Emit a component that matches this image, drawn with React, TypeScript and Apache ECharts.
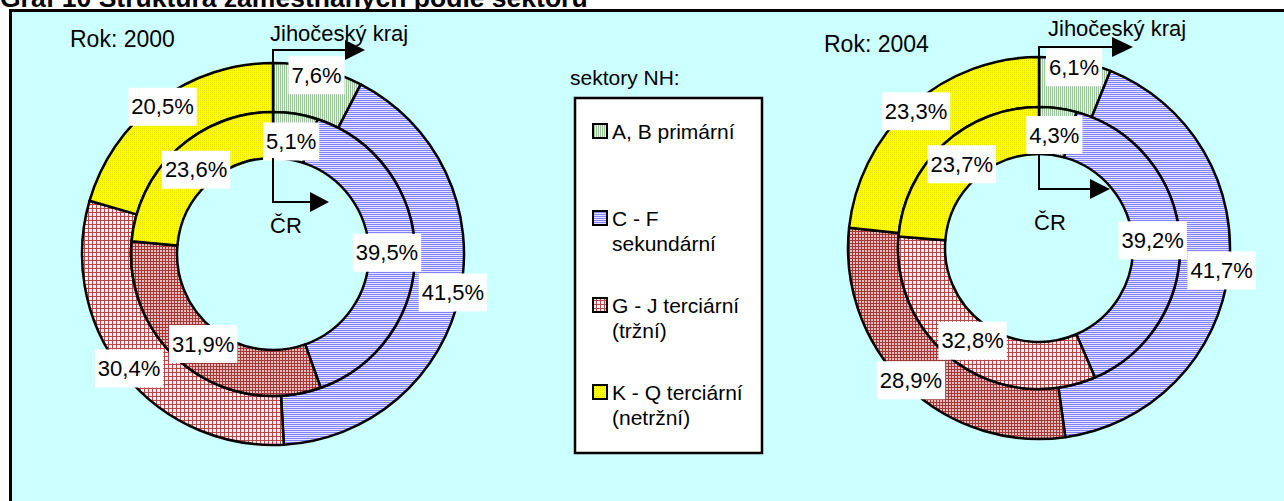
import React, { useEffect, useRef } from "react";
import * as echarts from "echarts";

const categories = [
  "A, B primární",
  "C - F\nsekundární",
  "G - J terciární\n(tržní)",
  "K - Q terciární\n(netržní)",
];
const kraj2000 = [7.6, 41.5, 30.4, 20.5];
const cr2000 = [5.1, 39.5, 31.9, 23.6];
const kraj2004 = [6.1, 41.7, 28.9, 23.3];
const cr2004 = [4.3, 39.2, 32.8, 23.7];

const FONT = "'Liberation Sans', Arial, Helvetica, sans-serif";

function makePattern(size: number, bg: string, fg: string, draw: (ctx: CanvasRenderingContext2D) => void) {
  const c = document.createElement("canvas");
  c.width = size;
  c.height = size;
  const ctx = c.getContext("2d")!;
  ctx.fillStyle = bg;
  ctx.fillRect(0, 0, size, size);
  ctx.fillStyle = fg;
  draw(ctx);
  return { image: c, repeat: "repeat", imageWidth: size, imageHeight: size } as any;
}

export default function App() {
  const ref = useRef<HTMLDivElement>(null);
  useEffect(() => {
    if (!ref.current) return;
    const chart = echarts.init(ref.current, null, { renderer: "svg" });

    const green = makePattern(2, "#e6f3e6", "#9cc49c", (c) => c.fillRect(0, 0, 1, 2));
    const blue = makePattern(2, "#e4e4ff", "#8282ff", (c) => c.fillRect(0, 0, 2, 1));
    const redLight = makePattern(4, "#fbefef", "#b34a4a", (c) => {
      c.fillRect(0, 0, 4, 1);
      c.fillRect(0, 0, 1, 4);
    });
    const redDark = makePattern(3, "#e6bcbc", "#a33838", (c) => {
      c.fillRect(0, 0, 3, 1);
      c.fillRect(0, 0, 1, 3);
    });
    const yellow = makePattern(2, "#ffff00", "#e4e400", (c) => c.fillRect(0, 0, 1, 1));

    const fmt = (p: any) => p.value.toFixed(1).replace(".", ",") + "%";

    const ring = (name: string, values: number[], center: number[], radius: number[], fills: any[]) => ({
      type: "pie",
      name,
      center,
      radius,
      startAngle: 90,
      clockwise: true,
      silent: true,
      z: 2,
      label: { show: false },
      labelLine: { show: false },
      emphasis: { disabled: true },
      data: values.map((v, i) => ({
        name: categories[i],
        value: v,
        itemStyle: { color: fills[i], borderColor: "#000", borderWidth: 2.5 },
      })),
    });

    const labelRing = (name: string, values: number[], center: number[], radius: number[]) => ({
      type: "pie",
      name,
      center,
      radius,
      startAngle: 90,
      clockwise: true,
      silent: true,
      z: 4,
      avoidLabelOverlap: false,
      labelLayout: { hideOverlap: false },
      itemStyle: { color: "rgba(0,0,0,0)", borderWidth: 0 },
      emphasis: { disabled: true },
      labelLine: { show: false },
      label: {
        show: true,
        position: "inside",
        formatter: fmt,
        color: "#000",
        fontSize: 22,
        fontFamily: FONT,
        lineHeight: 25,
        backgroundColor: "#fff",
        padding: [7, 3, 6, 3],
      },
      data: values.map((v, i) => ({ name: categories[i], value: v })),
    });

    const c2000 = [273, 254];
    const c2004 = [1039, 248];

    const legendFills = [green, blue, redLight, yellow];

    const txt = (text: string, x: number, y: number, size: number, extra: any = {}) => ({
      type: "text",
      x,
      y,
      z: 5,
      style: {
        text,
        fontSize: size,
        fontFamily: FONT,
        fill: "#000",
        textAlign: "left",
        textVerticalAlign: "middle",
        ...extra,
      },
    });

    const graphic: any[] = [
      {
        type: "text",
        x: 0,
        y: 11,
        z: 0,
        style: {
          text: "Graf 10 Struktura zaměstnaných podle sektorů",
          fontSize: 26.5,
          fontWeight: "bold",
          fontFamily: FONT,
          fill: "#000",
          textAlign: "left",
          textVerticalAlign: "bottom",
        },
      },
      {
        type: "rect",
        z: 1,
        shape: { x: 10.5, y: 10.5, width: 1300, height: 520 },
        style: { fill: "#ccffff", stroke: "#000", lineWidth: 3 },
      },
      txt("Rok: 2000", 70, 39, 23),
      txt("Rok: 2004", 824, 44, 23),
      txt("Jihočeský kraj", 270, 33, 22),
      txt("Jihočeský kraj", 1048, 28, 22),
      txt("ČR", 270, 225, 22),
      txt("ČR", 1034, 222, 22),
      {
        type: "polyline",
        z: 5,
        shape: { points: [[273, 63], [273, 50], [347, 50]] },
        style: { stroke: "#000", lineWidth: 2, fill: null },
      },
      { type: "polygon", z: 5, shape: { points: [[345, 40], [365, 50], [345, 60]] }, style: { fill: "#000" } },
      {
        type: "polyline",
        z: 5,
        shape: { points: [[1039, 57], [1039, 47], [1114, 47]] },
        style: { stroke: "#000", lineWidth: 2, fill: null },
      },
      { type: "polygon", z: 5, shape: { points: [[1112, 37], [1133, 47], [1112, 57]] }, style: { fill: "#000" } },
      {
        type: "polyline",
        z: 5,
        shape: { points: [[273, 158], [273, 202], [312, 202]] },
        style: { stroke: "#000", lineWidth: 2, fill: null },
      },
      { type: "polygon", z: 5, shape: { points: [[310, 192], [329, 202], [310, 212]] }, style: { fill: "#000" } },
      {
        type: "polyline",
        z: 5,
        shape: { points: [[1039, 154], [1039, 189], [1092, 189]] },
        style: { stroke: "#000", lineWidth: 2, fill: null },
      },
      { type: "polygon", z: 5, shape: { points: [[1090, 179], [1110, 189], [1090, 199]] }, style: { fill: "#000" } },
      txt("sektory NH:", 570, 77, 21),
      {
        type: "rect",
        z: 5,
        shape: { x: 575, y: 98, width: 187, height: 355 },
        style: { fill: "#fff", stroke: "#000", lineWidth: 2.5 },
      },
    ];
    categories.forEach((name, i) => {
      const cy = 131 + i * 87;
      graphic.push({
        type: "rect",
        z: 6,
        shape: { x: 593, y: cy - 7, width: 14, height: 14 },
        style: { fill: legendFills[i], stroke: "#000", lineWidth: 2 },
      });
      graphic.push({
        type: "text",
        x: 612,
        y: cy - 12.5,
        z: 6,
        style: {
          text: name,
          fontSize: 21,
          fontFamily: FONT,
          fill: "#000",
          lineHeight: 25,
          textAlign: "left",
          textVerticalAlign: "top",
        },
      });
    });

    chart.setOption({
      animation: false,
      backgroundColor: "#fff",
      graphic,
      series: [
        ring("Jihočeský kraj 2000", kraj2000, c2000, [142, 191], [green, blue, redLight, yellow]),
        ring("ČR 2000", cr2000, c2000, [96, 142], [green, blue, redDark, yellow]),
        ring("Jihočeský kraj 2004", kraj2004, c2004, [141, 191], [green, blue, redDark, yellow]),
        ring("ČR 2004", cr2004, c2004, [94, 141], [green, blue, redLight, yellow]),
        labelRing("kraj 2000 labels", kraj2000, c2000, [171, 191]),
        labelRing("ČR 2000 labels", cr2000, c2000, [101, 121]),
        labelRing("kraj 2004 labels", kraj2004, c2004, [171, 191]),
        labelRing("ČR 2004 labels", cr2004, c2004, [101, 121]),
      ],
    });
    return () => chart.dispose();
  }, []);

  return (
    <div
      ref={ref}
      style={{ position: "fixed", left: 0, top: 0, width: 1284, height: 501 }}
    />
  );
}
